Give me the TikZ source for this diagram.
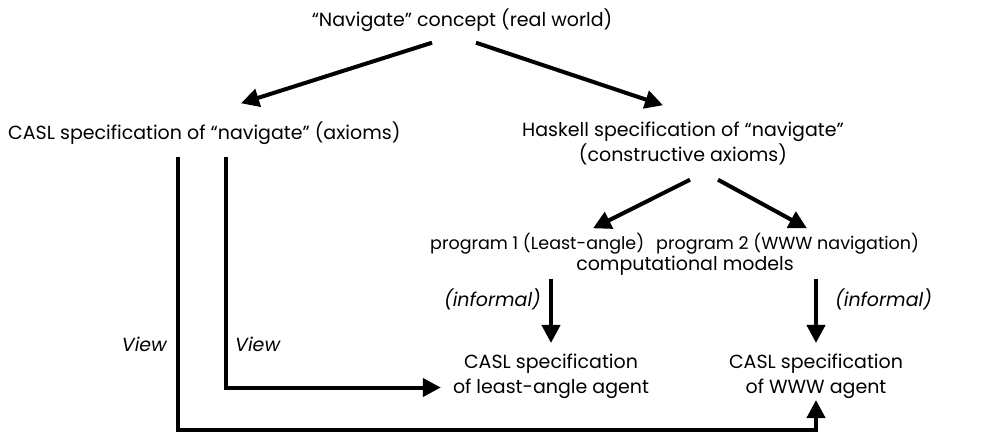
\documentclass[tikz,border=0pt]{standalone}
\usepackage{fontspec}
\setmainfont{Poppins}
\usetikzlibrary{arrows.meta,calc}

\begin{document}
\begin{tikzpicture}[x=1pt, y=-1pt,
    lbl/.style={inner sep=0pt, font=\fontsize{19}{25}\selectfont, text height=14pt, text depth=5pt},
    prog/.style={inner sep=0pt, font=\fontsize{17.5}{23}\selectfont, text height=13pt, text depth=4pt},
    ital/.style={lbl, font=\fontsize{19}{25}\selectfont\itshape},
    blk/.style={inner sep=0pt, font=\fontsize{19}{25}\selectfont, align=center},
    arr/.style={line width=4pt, -{Triangle[length=18pt,width=18pt]}},
  ]
    \useasboundingbox (0,0) rectangle (983,432);

    % Concept and specifications
    \node[lbl] (concept) at (462,22) {“Navigate” concept (real world)};
    \node[lbl, anchor=west] (casl) at (8,135) {CASL specification of “navigate” (axioms)};
    \node[blk] (haskell) at (683,144) {Haskell specification of “navigate”\\(constructive axioms)};

    % Programs
    \node[prog, anchor=west] (prog1) at (430,245) {program 1 (Least-angle)};
    \node[prog, anchor=west] (prog2) at (656,245) {program 2 (WWW navigation)};
    \node[lbl] (models) at (685,266) {computational models};

    % Agents
    \node[blk] (agent1) at (551,376.5) {CASL specification\\of least-angle agent};
    \node[blk] (agent2) at (816,376.5) {CASL specification\\of WWW agent};

    % Arrow labels
    \node[ital, anchor=east] (inf1) at (541,302) {(informal)};
    \node[ital, anchor=west] (inf2) at (835,302) {(informal)};
    \node[ital, anchor=east] (view1) at (167,347) {View};
    \node[ital, anchor=west] (view2) at (235,347) {View};

    % Refinement arrows
    \draw[arr] ($(concept.south)+(-30,11)$) -- ($(casl.north west)+(233,-22)$);
    \draw[arr] ($(concept.south)+(14,11)$) -- ($(haskell.north)+(-20,-17)$);
    \draw[arr] ($(haskell.south)+(7,14)$) -- ($(prog1.north west)+(163,-8)$);
    \draw[arr] ($(haskell.south)+(35,14)$) -- ($(prog2.north west)+(151,-8)$);
    \draw[arr] ($(models.south -| agent1.north)+(0,3)$) -- ($(agent1.north)+(0,-11)$);
    \draw[arr] ($(models.south -| agent2.north)+(0,3)$) -- ($(agent2.north)+(0,-11)$);

    % Views
    \draw[arr] ($(casl.south west)+(170,12)$) |- ($(agent2.south)+(0,31)$) -- ($(agent2.south)+(0,1)$);
    \draw[arr] ($(casl.south west)+(218,12)$) |- ($(agent1.west)+(-12,11)$);
\end{tikzpicture}
\end{document}
